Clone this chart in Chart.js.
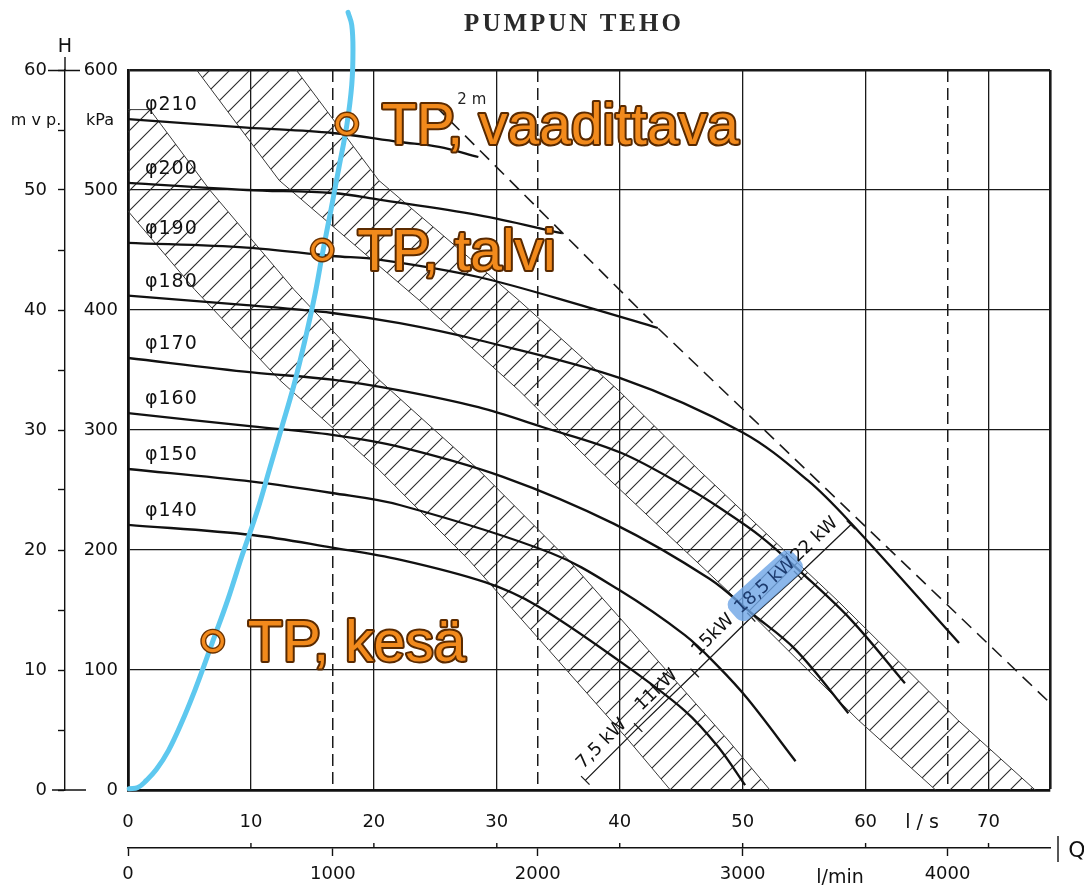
<!DOCTYPE html>
<html>
<head>
<meta charset="utf-8">
<script src="https://cdn.jsdelivr.net/npm/chart.js@4.4.1/dist/chart.umd.min.js"></script>
<style>
html,body{margin:0;padding:0;background:#fff;}
canvas{display:block;}
</style>
</head>
<body>
<canvas id="c" width="1084" height="888"></canvas>
<script>
// ---------- DATA ----------
// Pump curves: Q in l/s, H in m
const curveNames = ['φ210','φ200','φ190','φ180','φ170','φ160','φ150','φ140'];
const q210 = [0, 9.65, 16.6, 22.1, 25.3, 28.5];
const h210 = [55.9, 55.2, 54.75, 54.0, 53.6, 52.75];
const q200 = [0, 9.65, 16.6, 20.4, 28.5, 35.3];
const h200 = [50.6, 50.0, 49.75, 49.2, 47.9, 46.4];
const q190 = [0, 9.65, 16.6, 20.4, 28.5, 37.5, 43.1];
const h190 = [45.6, 45.2, 44.5, 44.2, 42.75, 40.2, 38.5];
const q180 = [0, 9.65, 16.6, 22.1, 28.5, 40.1, 50.0, 55.3, 58.8, 67.6];
const h180 = [41.2, 40.4, 39.75, 38.9, 37.5, 34.3, 29.8, 25.8, 22.25, 12.25];
const q170 = [0, 10.1, 16.6, 22.1, 28.5, 33.7, 40.1, 45.8, 48.0, 51.5, 54.7, 58.8, 63.2];
const h170 = [36.0, 34.8, 34.2, 33.3, 31.9, 30.25, 28.1, 25.0, 23.6, 21.1, 18.2, 14.2, 8.9];
const q160 = [0, 10.1, 16.6, 22.1, 30.5, 39.5, 47.3, 50.7, 54.3, 58.6];
const h160 = [31.4, 30.3, 29.6, 28.6, 26.1, 22.2, 17.6, 14.75, 11.7, 6.4];
const q150 = [0, 10.1, 16.6, 22.1, 34.4, 39.9, 45.3, 48.0, 50.4, 54.3];
const h150 = [26.75, 25.7, 24.75, 23.75, 19.75, 16.7, 12.9, 10.3, 7.6, 2.4];
const q140 = [0, 10.1, 16.6, 22.1, 29.1, 33.2, 39.9, 45.3, 48.0, 50.2];
const h140 = [22.1, 21.25, 20.2, 19.2, 17.3, 15.4, 10.8, 6.6, 3.6, 0.4];

// Dashed limit line
const limitQ = [25.0, 43.1, 75.0];
const limitH = [57.0, 38.5, 7.25];

// Hatched bands (edges)
const bandALeftQ  = [-6.3, -1.46, 5.43, 12.3, 20.4, 27.7, 34.2, 40.7, 44.8];
const bandALeftH  = [56.7, 50.0, 41.7, 34.2, 26.7, 19.2, 11.7, 4.17, -0.83];
const bandARightQ = [1.78, 6.65, 13.5, 20.4, 28.5, 35.8, 42.3, 48.8, 52.9];
const bandARightH = [56.7, 50.0, 41.7, 34.2, 26.7, 19.2, 11.7, 4.17, -0.83];
const bandBLeftQ  = [5.0, 12.3, 23.7, 31.8, 38.3, 49.6, 59.4, 67.5];
const bandBLeftH  = [60.8, 50.8, 40.8, 33.3, 26.7, 15.8, 5.83, -1.67];
const bandBRightQ = [13.1, 20.4, 31.8, 39.9, 46.4, 57.7, 67.5, 75.6];
const bandBRightH = [60.8, 50.8, 40.8, 33.3, 26.7, 15.8, 5.83, -1.67];

// Motor power dimension line
const motorQ = [37.2, 41.5, 46.1, 50.7, 54.5, 58.8];
const motorH = [0.8, 5.2, 9.75, 14.4, 17.9, 22.1];
const motorLabels = ['7,5 kW', '11kW', '15kW', '18,5 kW', '22 kW'];

// System curve (blue)
const sysQ = [0.1, 0.8, 1.5, 2.3, 3.3, 4.4, 5.4, 6.2, 6.9, 8.1, 9.3, 10.5, 11.5, 12.5, 13.5, 14.4, 15.2, 15.8, 16.5, 17.2, 17.8, 18.2, 18.3, 18.2, 17.9];
const sysH = [0.1, 0.2, 0.8, 1.7, 3.3, 5.7, 8.2, 10.4, 12.4, 15.8, 19.6, 23.2, 26.7, 30.2, 33.75, 37.5, 41.25, 44.6, 48.3, 52.1, 55.4, 58.75, 61.7, 63.75, 64.8];

// Operating points
const opLabels = ['TP, vaadittava', 'TP, talvi', 'TP, kesä'];
const opQ = [17.8, 15.8, 6.9];
const opH = [55.5, 45.0, 12.4];

// Axis ticks
const lpsTicks = [0, 10, 20, 30, 40, 50, 60, 70, 75];   // l/s (75 = frame edge)
const lpmTicks = [0, 1000, 2000, 3000, 4000];           // l/min
const lpmDashed = [1000, 2000, 4000];                   // dashed guide lines
const hTicks = [0, 5, 10, 15, 20, 25, 30, 35, 40, 45, 50, 55, 60];
const kpaTicks = [0, 100, 200, 300, 400, 500, 600];

// ---------- helpers ----------
const pts = (qs, hs) => qs.map((q, i) => ({x: q, y: hs[i]}));
const polygon = (lq, lh, rq, rh) => {
  const p = pts(lq, lh).concat(pts(rq, rh).reverse());
  p.push(p[0]);
  return p;
};
const setTicks = arr => s => { s.ticks = arr.map(v => ({value: v})); };
const hatch = (() => {
  const s = 20, c = document.createElement('canvas');
  c.width = c.height = s;
  const g = c.getContext('2d');
  g.strokeStyle = '#2a2a2a'; g.lineWidth = 1.1;
  g.beginPath();
  g.moveTo(0, s); g.lineTo(s, 0);
  g.moveTo(-s/2, s/2); g.lineTo(s/2, -s/2);
  g.moveTo(s/2, s*1.5); g.lineTo(s*1.5, s/2);
  g.stroke();
  return g.createPattern(c, 'repeat');
})();

const curves = [
  [q210, h210], [q200, h200], [q190, h190], [q180, h180],
  [q170, h170], [q160, h160], [q150, h150], [q140, h140]
];

const datasets = [];
datasets.push({data: polygon(bandALeftQ, bandALeftH, bandARightQ, bandARightH), fill: 'shape',
  backgroundColor: hatch, borderColor: '#3a3a3a', borderWidth: 1, tension: 0, order: 10});
datasets.push({data: polygon(bandBLeftQ, bandBLeftH, bandBRightQ, bandBRightH), fill: 'shape',
  backgroundColor: hatch, borderColor: '#3a3a3a', borderWidth: 1, tension: 0, order: 10});
datasets.push({data: pts(limitQ, limitH), borderColor: '#1a1a1a', borderWidth: 1.6,
  borderDash: [13, 8], tension: 0, fill: false, order: 8});
curves.forEach(([q, h]) => datasets.push({data: pts(q, h), borderColor: '#111', borderWidth: 2.3,
  tension: 0.35, fill: false, order: 5}));
datasets.push({data: pts(motorQ, motorH), borderColor: '#1a1a1a', borderWidth: 1.3, tension: 0, fill: false, order: 5});
datasets.push({data: pts(sysQ, sysH), borderColor: '#5EC8EF', borderWidth: 5, tension: 0.4,
  fill: false, clip: false, order: 2, borderCapStyle: 'round'});
datasets.push({data: pts(opQ, opH), showLine: false, pointRadius: 9.5, pointBorderWidth: 6,
  pointBorderColor: '#6a3200', pointBackgroundColor: 'rgba(255,255,255,0)', order: 1, clip: false});
datasets.push({data: pts(opQ, opH), showLine: false, pointRadius: 9.5, pointBorderWidth: 3.2,
  pointBorderColor: '#F28A1C', pointBackgroundColor: 'rgba(255,255,255,0)', order: 0, clip: false});
datasets.forEach(d => { d.xAxisID = 'x'; d.yAxisID = 'y'; if (d.pointRadius === undefined) d.pointRadius = 0; });

const FONT = '"DejaVu Sans", sans-serif';

const texts = {
  id: 'texts',
  afterDatasetsDraw(chart) {
    const ctx = chart.ctx, X = chart.scales.x, Y = chart.scales.y;
    ctx.save();
    // curve labels
    ctx.font = '19px ' + FONT; ctx.fillStyle = '#111';
    if ('letterSpacing' in ctx) ctx.letterSpacing = '1px';
    ctx.textAlign = 'left'; ctx.textBaseline = 'middle';
    curves.forEach(([q, h], i) => {
      ctx.fillText(curveNames[i], X.getPixelForValue(q[0]) + 17, Y.getPixelForValue(h[0]) - 14);
    });
    if ('letterSpacing' in ctx) ctx.letterSpacing = '0px';
    // motor dimension ticks and labels
    ctx.strokeStyle = '#1a1a1a'; ctx.lineWidth = 1.3;
    for (let i = 0; i < motorQ.length; i++) {
      const x = X.getPixelForValue(motorQ[i]), y = Y.getPixelForValue(motorH[i]);
      const j = Math.min(i, motorQ.length - 2);
      const a = Math.atan2(Y.getPixelForValue(motorH[j+1]) - Y.getPixelForValue(motorH[j]),
                           X.getPixelForValue(motorQ[j+1]) - X.getPixelForValue(motorQ[j]));
      ctx.beginPath();
      ctx.moveTo(x + Math.sin(a)*6, y - Math.cos(a)*6);
      ctx.lineTo(x - Math.sin(a)*6, y + Math.cos(a)*6);
      ctx.stroke();
    }
    ctx.font = '18px ' + FONT;
    ctx.textAlign = 'center'; ctx.textBaseline = 'middle';
    for (let i = 0; i < motorLabels.length; i++) {
      const x1 = X.getPixelForValue(motorQ[i]), y1 = Y.getPixelForValue(motorH[i]);
      const x2 = X.getPixelForValue(motorQ[i+1]), y2 = Y.getPixelForValue(motorH[i+1]);
      const a = Math.atan2(y2 - y1, x2 - x1);
      const off = 14;
      const lx = (x1 + x2)/2 + Math.sin(a)*off, ly = (y1 + y2)/2 - Math.cos(a)*off;
      ctx.save();
      ctx.translate(lx, ly); ctx.rotate(a);
      if (i === 3) {
        const w = ctx.measureText(motorLabels[i]).width + 12;
        ctx.fillStyle = 'rgba(110,165,230,0.8)';
        ctx.beginPath();
        ctx.roundRect(-w/2, -14, w, 28, 9);
        ctx.fill();
        ctx.fillStyle = '#1d3b6e';
      } else {
        ctx.fillStyle = '#111';
      }
      ctx.fillText(motorLabels[i], 0, 0);
      ctx.restore();
    }
    // small "2 m" note
    ctx.font = '15px ' + FONT; ctx.fillStyle = '#222'; ctx.textAlign = 'left';
    ctx.fillText('2 m', X.getPixelForValue(limitQ[0]) + 22, Y.getPixelForValue(limitH[0]) - 6);
    // operating point labels
    ctx.font = '57px "Liberation Sans", Arial, sans-serif';
    ctx.textAlign = 'left'; ctx.textBaseline = 'alphabetic';
    ctx.lineJoin = 'round';
    opLabels.forEach((t, i) => {
      const x = X.getPixelForValue(opQ[i]) + 35, y = Y.getPixelForValue(opH[i]) + 20;
      ctx.lineWidth = 4; ctx.strokeStyle = '#5a2a00';
      ctx.strokeText(t, x, y);
      ctx.fillStyle = '#F28A1C';
      ctx.fillText(t, x, y);
    });
    ctx.restore();
  },
  afterDraw(chart) {
    const ctx = chart.ctx, A = chart.chartArea;
    const yH = chart.scales.y, xl = chart.scales.xmin, X = chart.scales.x;
    ctx.save();
    // title
    ctx.font = 'bold 25px "Liberation Serif", serif';
    if ('letterSpacing' in ctx) ctx.letterSpacing = '3px';
    ctx.fillStyle = '#2a2a2a'; ctx.textAlign = 'center'; ctx.textBaseline = 'alphabetic';
    ctx.fillText('PUMPUN TEHO', 574, 31);
    if ('letterSpacing' in ctx) ctx.letterSpacing = '0px';
    // axis titles
    ctx.fillStyle = '#111'; ctx.textBaseline = 'middle';
    ctx.font = '19px ' + FONT;
    ctx.fillText('H', yH.right, 47);
    ctx.font = '16px ' + FONT;
    ctx.fillText('m v p.', 36, 121);
    ctx.fillText('kPa', 100, 121);
    ctx.font = '19px ' + FONT;
    ctx.fillText('l / s', 922, 823);
    ctx.fillText('l/min', 840, 878);
    ctx.font = '22px ' + FONT;
    ctx.fillText('Q', 1077, 851);
    // extra axis strokes
    ctx.strokeStyle = '#111'; ctx.lineWidth = 1.4;
    ctx.beginPath();
    ctx.moveTo(yH.right, 57); ctx.lineTo(yH.right, A.top);
    ctx.moveTo(48, A.top + 0.5); ctx.lineTo(A.left - 48, A.top + 0.5);
    ctx.moveTo(52, A.bottom); ctx.lineTo(86, A.bottom);
    ctx.moveTo(1058, xl.top - 12); ctx.lineTo(1058, xl.top + 14);
    // small l/s ticks on the l/min line
    lpsTicks.forEach(v => {
      if (v % 10 !== 0 || v === 0) return;
      const x = X.getPixelForValue(v);
      ctx.moveTo(x, xl.top - 5); ctx.lineTo(x, xl.top);
    });
    ctx.stroke();
    ctx.restore();
  }
};

const tickFont = {family: 'DejaVu Sans', size: 18};

new Chart(document.getElementById('c'), {
  type: 'line',
  data: {datasets},
  options: {
    responsive: false,
    animation: false,
    devicePixelRatio: 1,
    events: [],
    layout: {padding: {top: 70, right: 34, left: 0, bottom: 0}},
    plugins: {legend: {display: false}, tooltip: {enabled: false}},
    scales: {
      x: {
        type: 'linear', position: 'bottom', min: 0, max: 75, weight: 0,
        afterBuildTicks: setTicks(lpsTicks),
        afterFit: s => { s.height = 58; },
        ticks: {autoSkip: false, maxRotation: 0, padding: 22, color: '#111', font: tickFont,
          callback: v => (v % 10 === 0 ? String(v) : '')},
        grid: {drawTicks: false, color: '#1a1a1a',
          lineWidth: c => (c.tick && c.tick.value === 75 ? 2.6 : 1.3)},
        border: {display: true, width: 2.8, color: '#111'}
      },
      xmin: {
        type: 'linear', position: 'bottom', min: 0, max: 4500, weight: 1,
        afterBuildTicks: setTicks(lpmTicks),
        afterFit: s => { s.height = 40; },
        ticks: {autoSkip: false, maxRotation: 0, padding: 8, color: '#111', font: tickFont,
          callback: v => String(v)},
        grid: {drawOnChartArea: false, drawTicks: true, tickLength: 8, tickColor: '#111', tickWidth: 1.4},
        border: {display: true, width: 1.4, color: '#111'}
      },
      xdash: {
        type: 'linear', position: 'top', min: 0, max: 4500,
        afterBuildTicks: setTicks(lpmDashed),
        afterFit: s => { s.height = 0; },
        ticks: {display: false},
        grid: {drawTicks: false, drawOnChartArea: true, color: '#1a1a1a', lineWidth: 1.5},
        border: {display: false, dash: [12, 6]}
      },
      ykpa: {
        type: 'linear', position: 'left', min: 0, max: 600, weight: 0,
        afterBuildTicks: setTicks(kpaTicks),
        afterFit: s => { s.width = 63; },
        ticks: {autoSkip: false, padding: 10, color: '#111', font: tickFont},
        grid: {drawTicks: false, color: '#1a1a1a',
          lineWidth: c => (c.tick && c.tick.value === 600 ? 2.4 : 1.3)},
        border: {display: true, width: 2.8, color: '#111'}
      },
      y: {
        type: 'linear', position: 'left', min: 0, max: 60, weight: 1,
        afterBuildTicks: setTicks(hTicks),
        afterFit: s => { s.width = 65; },
        ticks: {autoSkip: false, padding: 11, color: '#111', font: tickFont,
          callback: v => (v % 10 === 0 ? String(v) : '')},
        grid: {drawOnChartArea: false, drawTicks: true, tickLength: 7, tickColor: '#111', tickWidth: 1.4},
        border: {display: true, width: 1.4, color: '#111'}
      }
    }
  },
  plugins: [texts]
});
</script>
</body>
</html>
